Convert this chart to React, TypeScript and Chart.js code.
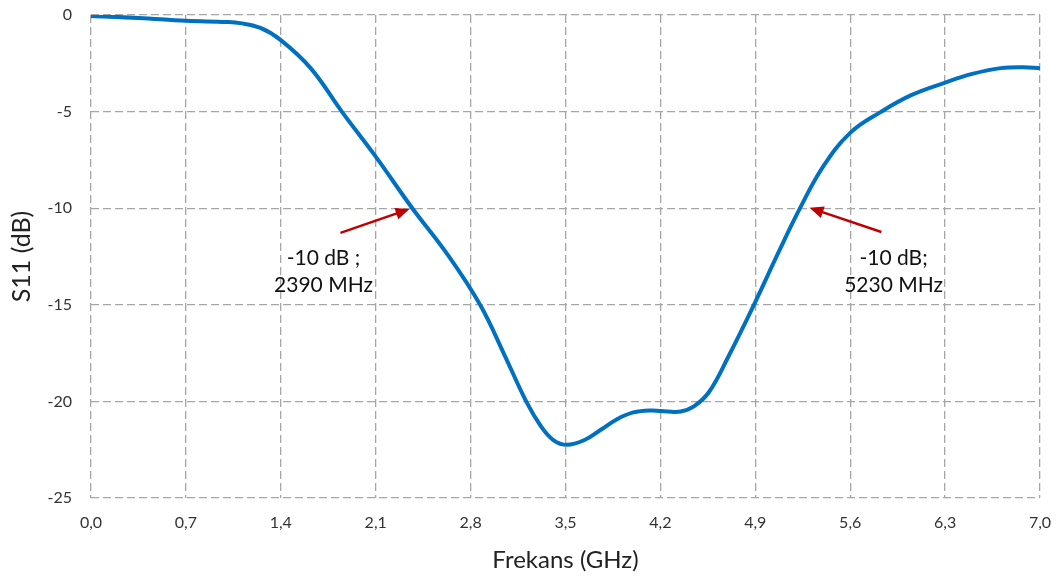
import React, { useEffect, useRef } from "react";
import { Chart, registerables } from "chart.js";

Chart.register(...registerables);

const freqGHz = [0, 0.35, 0.7, 1.0, 1.1, 1.25, 1.4, 1.62, 1.85, 2.1, 2.37, 2.62, 2.87, 3.05, 3.21, 3.32, 3.41, 3.51, 3.64, 3.76, 3.88, 4.0, 4.13, 4.25, 4.35, 4.45, 4.56, 4.7, 4.89, 5.07, 5.23, 5.4, 5.6, 5.83, 6.05, 6.3, 6.5, 6.71, 6.88, 7.0];
const s11dB = [-0.05, -0.15, -0.3, -0.36, -0.42, -0.67, -1.3, -2.75, -5.0, -7.33, -10.0, -12.3, -15.0, -17.6, -20.0, -21.3, -22.0, -22.25, -22.0, -21.47, -20.92, -20.57, -20.47, -20.52, -20.52, -20.24, -19.5, -17.7, -15.0, -12.3, -10.0, -7.85, -6.1, -5.0, -4.15, -3.5, -3.05, -2.75, -2.7, -2.75];

const xTicks = [0, 0.7, 1.4, 2.1, 2.8, 3.5, 4.2, 4.9, 5.6, 6.3, 7.0];
const yTicks = [-25, -20, -15, -10, -5, 0];

const annotationLines = [
  ["-10 dB ;", "2390 MHz"],
  ["-10 dB;", "5230 MHz"],
];
const annotationTextAt = [
  [1.715, -12.57],
  [5.92, -12.57],
];
const arrowTail = [
  [1.84, -11.28],
  [5.83, -11.23],
];
const arrowTip = [
  [2.35, -10.04],
  [5.3, -9.98],
];

const FONT = "Lato, 'Open Sans', sans-serif";

const annotationPlugin = {
  id: "s11Annotations",
  afterDatasetsDraw(chart: any) {
    const ctx = chart.ctx;
    const xs = chart.scales.x;
    const ys = chart.scales.y;
    ctx.save();
    for (let i = 0; i < arrowTail.length; i++) {
      const x1 = xs.getPixelForValue(arrowTail[i][0]);
      const y1 = ys.getPixelForValue(arrowTail[i][1]);
      const x2 = xs.getPixelForValue(arrowTip[i][0]);
      const y2 = ys.getPixelForValue(arrowTip[i][1]);
      const ang = Math.atan2(y2 - y1, x2 - x1);
      const headLen = 14;
      const headW = 6;
      ctx.strokeStyle = "#C00000";
      ctx.fillStyle = "#C00000";
      ctx.lineWidth = 2.5;
      ctx.beginPath();
      ctx.moveTo(x1, y1);
      ctx.lineTo(x2 - Math.cos(ang) * headLen * 0.8, y2 - Math.sin(ang) * headLen * 0.8);
      ctx.stroke();
      ctx.beginPath();
      ctx.moveTo(x2, y2);
      ctx.lineTo(
        x2 - Math.cos(ang) * headLen - Math.sin(ang) * headW,
        y2 - Math.sin(ang) * headLen + Math.cos(ang) * headW
      );
      ctx.lineTo(
        x2 - Math.cos(ang) * headLen + Math.sin(ang) * headW,
        y2 - Math.sin(ang) * headLen - Math.cos(ang) * headW
      );
      ctx.closePath();
      ctx.fill();
    }
    ctx.fillStyle = "#111";
    ctx.font = `21px ${FONT}`;
    ctx.textAlign = "center";
    ctx.textBaseline = "middle";
    for (let i = 0; i < annotationLines.length; i++) {
      const cx = xs.getPixelForValue(annotationTextAt[i][0]);
      const cy = ys.getPixelForValue(annotationTextAt[i][1]);
      annotationLines[i].forEach((line, j) => {
        ctx.fillText(line, cx, cy + j * 27);
      });
    }
    ctx.restore();
  },
};

export default function App() {
  const canvasRef = useRef<HTMLCanvasElement | null>(null);

  useEffect(() => {
    document.body.style.margin = "0";
    const canvas = canvasRef.current!;
    const chart = new Chart(canvas, {
      type: "line",
      data: {
        datasets: [
          {
            data: freqGHz.map((x, i) => ({ x, y: s11dB[i] })),
            borderColor: "#0070C0",
            borderWidth: 4,
            pointRadius: 0,
            tension: 0.4,
            fill: false,
          },
        ],
      },
      options: {
        responsive: false,
        animation: false,
        layout: { padding: { left: 0, right: 19, top: 15, bottom: 0 } },
        plugins: {
          legend: { display: false },
          tooltip: { enabled: false },
        },
        scales: {
          x: {
            type: "linear",
            min: 0,
            max: 7,
            afterBuildTicks: (scale: any) => {
              scale.ticks = xTicks.map((v) => ({ value: v }));
            },
            afterFit: (scale: any) => {
              scale.height = 82;
              scale.paddingLeft = 0;
              scale.paddingRight = 0;
            },
            ticks: {
              callback: (v: any) => Number(v).toFixed(1).replace(".", ","),
              font: { family: FONT, size: 16 },
              color: "#333",
              padding: 15,
              maxRotation: 0,
              autoSkip: false,
            },
            grid: { color: "#a6a6a6", lineWidth: 1.3, drawTicks: false },
            border: { display: false, dash: [8, 4] },
            title: {
              display: true,
              text: "Frekans (GHz)",
              font: { family: FONT, size: 24 },
              color: "#222",
              padding: { top: 0, bottom: 5 },
            },
          },
          y: {
            type: "linear",
            min: -25,
            max: 0,
            afterBuildTicks: (scale: any) => {
              scale.ticks = yTicks.map((v) => ({ value: v }));
            },
            afterFit: (scale: any) => {
              scale.width = 91;
              scale.paddingTop = 0;
              scale.paddingBottom = 0;
            },
            ticks: {
              font: { family: FONT, size: 16 },
              color: "#333",
              padding: 19,
              autoSkip: false,
            },
            grid: { color: "#a6a6a6", lineWidth: 1.3, drawTicks: false },
            border: { display: false, dash: [8, 4] },
            title: {
              display: true,
              text: "S11 (dB)",
              font: { family: FONT, size: 25 },
              color: "#222",
              padding: { top: 7, bottom: 0 },
            },
          },
        },
      },
      plugins: [annotationPlugin],
    } as any);
    return () => chart.destroy();
  }, []);

  return (
    <div style={{ position: "absolute", left: 0, top: 0, width: 1059, height: 580, background: "#fff" }}>
      <canvas ref={canvasRef} width={1059} height={580} style={{ width: 1059, height: 580 }} />
    </div>
  );
}
